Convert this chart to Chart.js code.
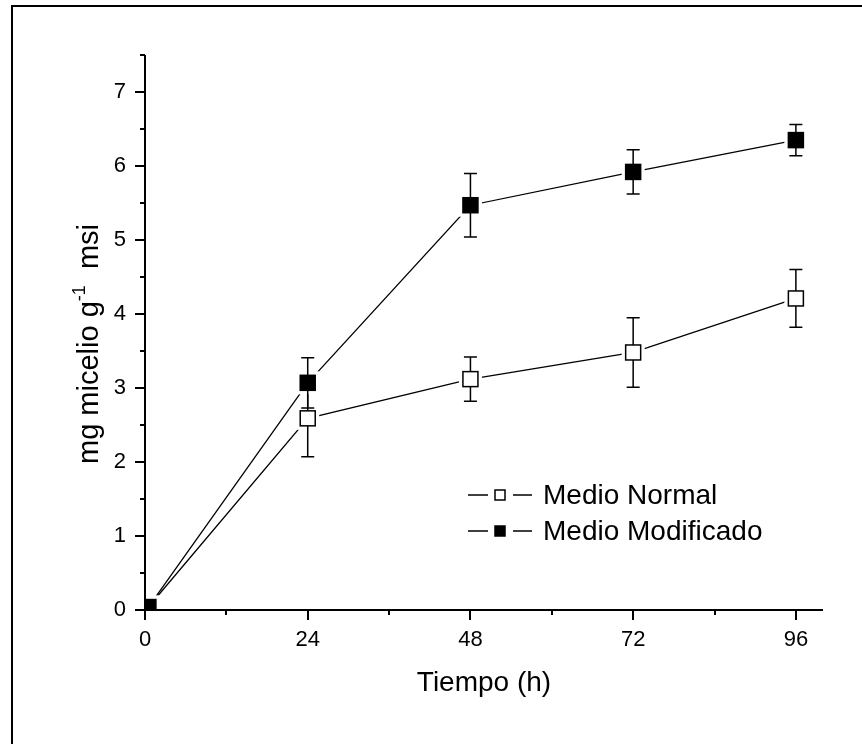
<!DOCTYPE html>
<html>
<head>
<meta charset="utf-8">
<script src="https://cdn.jsdelivr.net/npm/chart.js@4"></script>
<style>
  body { margin: 0; background: white; }
</style>
</head>
<body>
<canvas id="growthChart" width="862" height="744"></canvas>
<script>
// Data
const hours = [0.5, 24, 48, 72, 96];
const normalValues = [0.04, 2.59, 3.12, 3.48, 4.21];
const normalErrors = [0, 0.52, 0.30, 0.47, 0.39];
const modifiedValues = [0.04, 3.07, 5.47, 5.92, 6.35];
const modifiedErrors = [0, 0.34, 0.43, 0.30, 0.21];
const seriesLabels = ["Medio Normal", "Medio Modificado"];
const xTickLabels = [0, 24, 48, 72, 96];
const yTickLabels = [0, 1, 2, 3, 4, 5, 6, 7];

const FONT = "'Liberation Sans', Arial, sans-serif";

// Function: build {x, y} points for a series
function toPoints(values) {
  return values.map((v, i) => ({ x: hours[i], y: v }));
}

// Plugin: frame, axes, error bars, square markers, legend and y title
const decorations = {
  id: "decorations",
  beforeDraw(chart) {
    const ctx = chart.ctx;
    ctx.save();
    ctx.fillStyle = "white";
    ctx.fillRect(0, 0, chart.width, chart.height);
    // outer frame (only top and left edges are in the picture)
    ctx.strokeStyle = "black";
    ctx.lineWidth = 2;
    ctx.beginPath();
    ctx.moveTo(12, chart.height);
    ctx.lineTo(12, 6);
    ctx.lineTo(chart.width, 6);
    ctx.stroke();
    ctx.restore();
  },
  afterDatasetsDraw(chart) {
    const ctx = chart.ctx;
    const area = chart.chartArea;
    const yScale = chart.scales.y;
    const size = 15;
    const half = size / 2;

    chart.data.datasets.forEach((ds, di) => {
      const meta = chart.getDatasetMeta(di);
      meta.data.forEach((pt, i) => {
        const x = pt.x;
        const y = pt.y;
        const err = ds.errors[i];

        ctx.save();
        ctx.beginPath();
        ctx.rect(area.left, area.top, area.right - area.left, area.bottom - area.top);
        ctx.clip();

        // white halo so the line stops short of the marker
        ctx.fillStyle = "white";
        ctx.fillRect(x - half - 4, y - half - 4, size + 8, size + 8);

        // error bars
        if (err > 0) {
          const yTop = yScale.getPixelForValue(ds.data[i].y + err);
          const yBot = yScale.getPixelForValue(ds.data[i].y - err);
          ctx.strokeStyle = "black";
          ctx.lineWidth = 1.5;
          ctx.beginPath();
          ctx.moveTo(x, y - half);
          ctx.lineTo(x, yTop);
          ctx.moveTo(x - 6.5, yTop);
          ctx.lineTo(x + 6.5, yTop);
          ctx.moveTo(x, y + half);
          ctx.lineTo(x, yBot);
          ctx.moveTo(x - 6.5, yBot);
          ctx.lineTo(x + 6.5, yBot);
          ctx.stroke();
        }

        // square marker
        ctx.fillStyle = ds.markerFill;
        ctx.fillRect(x - half, y - half, size, size);
        ctx.strokeStyle = "black";
        ctx.lineWidth = 1.5;
        ctx.strokeRect(x - half, y - half, size, size);
        ctx.restore();
      });
    });
  },
  afterDraw(chart) {
    const ctx = chart.ctx;
    const area = chart.chartArea;
    const xScale = chart.scales.x;
    const yScale = chart.scales.y;

    ctx.save();
    ctx.strokeStyle = "black";
    ctx.lineWidth = 2;

    // axis lines
    ctx.beginPath();
    ctx.moveTo(area.left, area.top);
    ctx.lineTo(area.left, area.bottom);
    ctx.lineTo(area.right, area.bottom);
    ctx.stroke();

    // x ticks: major every 24, minor every 12
    ctx.beginPath();
    for (let h = 0; h <= xScale.max; h += 12) {
      const px = Math.round(xScale.getPixelForValue(h));
      const len = h % 24 === 0 ? 10 : 5;
      ctx.moveTo(px, area.bottom);
      ctx.lineTo(px, area.bottom + len);
    }
    // y ticks: major every 1, minor every 0.5
    for (let v = 0; v <= yScale.max + 0.001; v += 0.5) {
      const py = Math.round(yScale.getPixelForValue(v));
      const len = Math.abs(v - Math.round(v)) < 0.01 ? 10 : 5;
      ctx.moveTo(area.left, py);
      ctx.lineTo(area.left - len, py);
    }
    ctx.stroke();

    // x axis title
    ctx.fillStyle = "black";
    ctx.font = `28px ${FONT}`;
    ctx.textAlign = "center";
    ctx.textBaseline = "alphabetic";
    ctx.fillText("Tiempo (h)", (area.left + area.right) / 2, 691);

    // y axis title with superscript
    ctx.translate(98, 344);
    ctx.rotate(-Math.PI / 2);
    const part1 = "mg micelio g";
    const sup = "-1";
    const part2 = "  msi";
    ctx.font = `29px ${FONT}`;
    const w1 = ctx.measureText(part1).width;
    const w3 = ctx.measureText(part2).width;
    ctx.font = `18px ${FONT}`;
    const w2 = ctx.measureText(sup).width;
    let tx = -(w1 + w2 + w3) / 2;
    ctx.textAlign = "left";
    ctx.font = `29px ${FONT}`;
    ctx.fillText(part1, tx, 0);
    tx += w1;
    ctx.font = `18px ${FONT}`;
    ctx.fillText(sup, tx, -13);
    tx += w2;
    ctx.font = `29px ${FONT}`;
    ctx.fillText(part2, tx, 0);
    ctx.restore();

    // legend
    ctx.save();
    const legendX = 468;
    const rows = [495, 531];
    chart.data.datasets.forEach((ds, di) => {
      const ry = rows[di];
      ctx.strokeStyle = "black";
      ctx.lineWidth = 1.5;
      ctx.beginPath();
      ctx.moveTo(legendX, ry);
      ctx.lineTo(legendX + 20, ry);
      ctx.moveTo(legendX + 45, ry);
      ctx.lineTo(legendX + 64, ry);
      ctx.stroke();
      ctx.fillStyle = ds.markerFill;
      ctx.fillRect(legendX + 27, ry - 5, 10, 10);
      ctx.strokeRect(legendX + 27, ry - 5, 10, 10);
      ctx.fillStyle = "black";
      ctx.font = `28px ${FONT}`;
      ctx.textAlign = "left";
      ctx.textBaseline = "middle";
      ctx.fillText(ds.label, legendX + 75, ry + 1);
    });
    ctx.restore();
  },
};

const ctx = document.getElementById("growthChart").getContext("2d");

new Chart(ctx, {
  type: "scatter",
  data: {
    datasets: [
      {
        label: seriesLabels[0],
        data: toPoints(normalValues),
        errors: normalErrors,
        markerFill: "white",
        showLine: true,
        borderColor: "black",
        borderWidth: 1.3,
        pointRadius: 0,
      },
      {
        label: seriesLabels[1],
        data: toPoints(modifiedValues),
        errors: modifiedErrors,
        markerFill: "black",
        showLine: true,
        borderColor: "black",
        borderWidth: 1.3,
        pointRadius: 0,
      },
    ],
  },
  options: {
    responsive: false,
    animation: false,
    layout: {
      padding: { left: 0, top: 55, right: 39, bottom: 0 },
    },
    plugins: {
      legend: { display: false },
      tooltip: { enabled: false },
    },
    scales: {
      x: {
        type: "linear",
        min: 0,
        max: 100,
        afterFit: (scale) => { scale.height = 134; },
        afterBuildTicks: (scale) => {
          scale.ticks = xTickLabels.map((v) => ({ value: v }));
        },
        grid: { display: false, drawTicks: false },
        border: { display: false },
        ticks: {
          color: "black",
          padding: 17,
          font: { family: FONT, size: 22 },
          callback: (v) => String(v),
        },
      },
      y: {
        type: "linear",
        min: 0,
        max: 7.5,
        afterFit: (scale) => { scale.width = 145; },
        afterBuildTicks: (scale) => {
          scale.ticks = yTickLabels.map((v) => ({ value: v }));
        },
        grid: { display: false, drawTicks: false },
        border: { display: false },
        ticks: {
          color: "black",
          padding: 19,
          font: { family: FONT, size: 22 },
          callback: (v) => String(v),
        },
      },
    },
  },
  plugins: [decorations],
});
</script>
</body>
</html>
